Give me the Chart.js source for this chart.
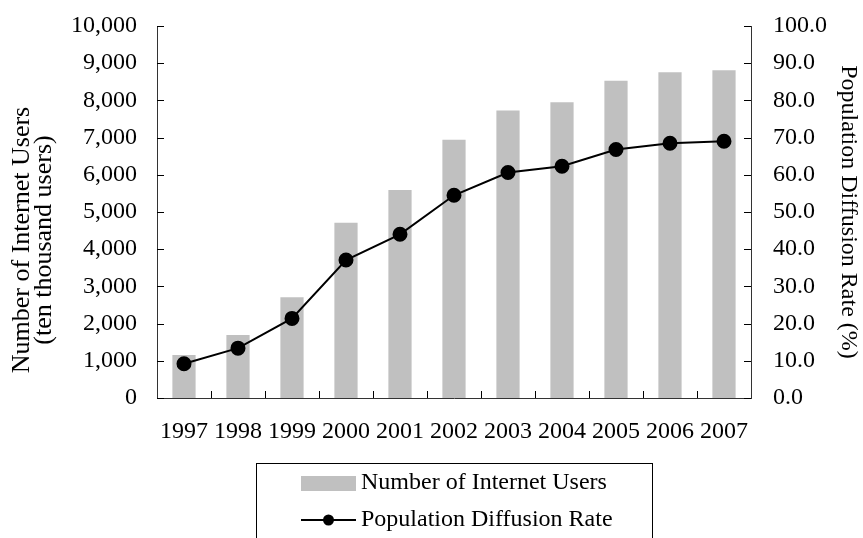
<!DOCTYPE html>
<html>
<head>
<meta charset="utf-8">
<title>Internet Users and Population Diffusion Rate</title>
<script src="https://cdn.jsdelivr.net/npm/chart.js@4.4.1/dist/chart.umd.min.js"></script>
<style>
  html, body { margin: 0; padding: 0; background: #fff; }
  #wrap { width: 863px; height: 538px; position: relative; }
</style>
</head>
<body>
<div id="wrap"><canvas id="usersChart"></canvas></div>
<script>
// Yearly data
const years = ['1997', '1998', '1999', '2000', '2001', '2002', '2003', '2004', '2005', '2006', '2007'];
const internetUsers = [1155, 1694, 2706, 4708, 5593, 6942, 7730, 7948, 8529, 8754, 8811]; // ten thousand users
const diffusionRate = [9.2, 13.4, 21.4, 37.1, 44.0, 54.5, 60.6, 62.3, 66.8, 68.5, 69.0];  // %

const usersAxisMax = 10000;
const usersAxisStep = 1000;
const rateAxisMax = 100;
const rateAxisStep = 10;

const usersTitle = ['Number of Internet Users', '(ten thousand users)'];
const rateTitle = 'Population Diffusion Rate (%)';

const FONT = 'Liberation Serif, Times New Roman, serif';
const FONT_SIZE = 24;
const USERS_TITLE_SIZE = 26;
const BAR_COLOR = '#c0c0c0';
const AXIS_COLOR = '#333';

// short tick marks pointing into the plot area
const innerTicks = {
    id: 'innerTicks',
    afterDraw(chart) {
        const ctx = chart.ctx;
        const area = chart.chartArea;
        const len = 7;
        ctx.save();
        ctx.strokeStyle = '#000';
        ctx.lineWidth = 1;
        ctx.beginPath();
        const y = chart.scales.y;
        y.ticks.forEach(function (t) {
            const py = Math.round(y.getPixelForValue(t.value)) + 0.5;
            ctx.moveTo(area.left, py);
            ctx.lineTo(area.left + len, py);
        });
        const y1 = chart.scales.y1;
        y1.ticks.forEach(function (t) {
            const py = Math.round(y1.getPixelForValue(t.value)) + 0.5;
            ctx.moveTo(area.right, py);
            ctx.lineTo(area.right - len, py);
        });
        const x = chart.scales.x;
        for (let i = 1; i < years.length; i++) {
            const px = Math.round((x.getPixelForTick(i - 1) + x.getPixelForTick(i)) / 2) + 0.5;
            ctx.moveTo(px, area.bottom);
            ctx.lineTo(px, area.bottom - len);
        }
        ctx.stroke();
        ctx.restore();
    }
};

// left axis title, two lines, sitting a little below the axis middle
const usersAxisTitle = {
    id: 'usersAxisTitle',
    afterDraw(chart) {
        const ctx = chart.ctx;
        const area = chart.chartArea;
        const cy = (area.top + area.bottom) / 2 + 28;
        ctx.save();
        ctx.fillStyle = '#000';
        ctx.font = USERS_TITLE_SIZE + 'px ' + FONT;
        ctx.textAlign = 'center';
        ctx.textBaseline = 'middle';
        ctx.translate(22, cy);
        ctx.rotate(-Math.PI / 2);
        usersTitle.forEach(function (line, i) {
            ctx.fillText(line, 0, i * 22);
        });
        ctx.restore();
    }
};

// boxed legend below the x axis, one entry per row
const boxedLegend = {
    id: 'boxedLegend',
    afterDraw(chart) {
        const ctx = chart.ctx;
        const area = chart.chartArea;
        const cx = (area.left + area.right) / 2;
        const top = area.bottom + 65;
        const sets = chart.data.datasets;
        ctx.save();
        ctx.strokeStyle = '#000';
        ctx.lineWidth = 1;
        ctx.strokeRect(Math.round(cx - 198) + 0.5, Math.round(top) + 0.5, 396, 100);

        const symLeft = cx - 153;
        const symRight = cx - 98;
        const textX = cx - 93;
        const row1 = top + 20;
        const row2 = top + 57;

        ctx.fillStyle = sets[0].backgroundColor;
        ctx.fillRect(symLeft, row1 - 7, symRight - symLeft, 15);

        ctx.strokeStyle = sets[1].borderColor;
        ctx.lineWidth = 2;
        ctx.beginPath();
        ctx.moveTo(symLeft, row2);
        ctx.lineTo(symRight, row2);
        ctx.stroke();
        ctx.fillStyle = sets[1].pointBackgroundColor;
        ctx.beginPath();
        ctx.arc((symLeft + symRight) / 2, row2, 5.5, 0, Math.PI * 2);
        ctx.fill();

        ctx.fillStyle = '#000';
        ctx.font = FONT_SIZE + 'px ' + FONT;
        ctx.textBaseline = 'middle';
        ctx.textAlign = 'left';
        ctx.fillText(sets[0].label, textX, row1);
        ctx.fillText(sets[1].label, textX, row2);
        ctx.restore();
    }
};

// fixed axis widths; drop the label overhang so the plot keeps its top edge
function fixWidth(w) {
    return function (scale) {
        scale.width = w;
        scale.paddingTop = 0;
        scale.paddingBottom = 0;
    };
}

Chart.defaults.font.family = FONT;
Chart.defaults.font.size = FONT_SIZE;
Chart.defaults.color = '#000';

new Chart(document.getElementById('usersChart'), {
    type: 'bar',
    data: {
        labels: years,
        datasets: [{
            type: 'bar',
            label: 'Number of Internet Users',
            data: internetUsers,
            backgroundColor: BAR_COLOR,
            barPercentage: 0.43,
            categoryPercentage: 1.0,
            yAxisID: 'y',
            order: 1
        }, {
            type: 'line',
            label: 'Population Diffusion Rate',
            data: diffusionRate,
            borderColor: '#000',
            borderWidth: 2,
            pointRadius: 6.5,
            pointBackgroundColor: '#000',
            pointBorderColor: '#000',
            tension: 0,
            yAxisID: 'y1',
            order: 0
        }]
    },
    plugins: [innerTicks, usersAxisTitle, boxedLegend],
    options: {
        responsive: true,
        maintainAspectRatio: false,
        animation: false,
        layout: { padding: { top: 26, left: 0, right: 0, bottom: 0 } },
        plugins: {
            legend: { display: false },
            tooltip: { enabled: false }
        },
        scales: {
            x: {
                grid: { display: false, drawTicks: false },
                border: { color: AXIS_COLOR, width: 1 },
                ticks: { padding: 19, maxRotation: 0, autoSkip: false },
                afterFit: function (scale) { scale.height = 140; }
            },
            y: {
                position: 'left',
                min: 0,
                max: usersAxisMax,
                grid: { display: false, drawTicks: false },
                border: { color: AXIS_COLOR, width: 1 },
                ticks: {
                    stepSize: usersAxisStep,
                    padding: 20,
                    callback: function (v) { return v.toLocaleString('en-US'); }
                },
                afterFit: fixWidth(157)
            },
            y1: {
                position: 'right',
                min: 0,
                max: rateAxisMax,
                grid: { display: false, drawTicks: false },
                border: { color: AXIS_COLOR, width: 1 },
                ticks: {
                    stepSize: rateAxisStep,
                    padding: 22,
                    callback: function (v) { return v.toFixed(1); }
                },
                title: {
                    display: true,
                    text: rateTitle,
                    font: { size: FONT_SIZE, lineHeight: 1.0 },
                    padding: { top: 3, bottom: 0 }
                },
                afterFit: fixWidth(112)
            }
        }
    }
});
</script>
</body>
</html>
